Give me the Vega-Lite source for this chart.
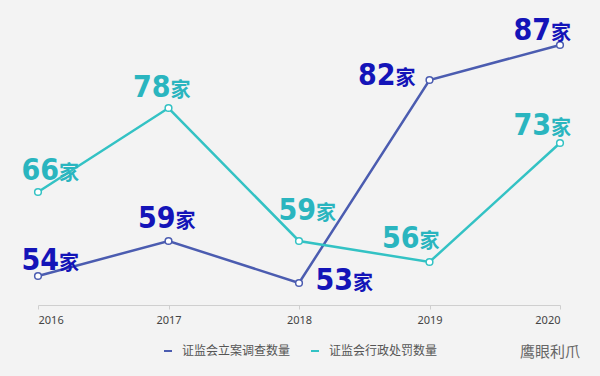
{
  "$schema": "https://vega.github.io/schema/vega-lite/v6.json",
  "autosize": "none",
  "width": 522,
  "height": 301,
  "padding": {"top": 3, "left": 38, "right": 40, "bottom": 72},
  "background": "#f3f3f3",
  "config": {"view": {"stroke": null}, "font": "Noto Sans"},
  "title": {"text": "鹰眼利爪", "orient": "bottom", "anchor": "end", "offset": -12, "dx": 9, "fontSize": 15, "fontWeight": "normal", "color": "#666", "font": "Noto Sans CJK SC"},
  "data": {"values": [
    {"year": 2016, "series": "证监会立案调查数量", "value": 54},
    {"year": 2017, "series": "证监会立案调查数量", "value": 59},
    {"year": 2018, "series": "证监会立案调查数量", "value": 53},
    {"year": 2019, "series": "证监会立案调查数量", "value": 82},
    {"year": 2020, "series": "证监会立案调查数量", "value": 87},
    {"year": 2016, "series": "证监会行政处罚数量", "value": 66},
    {"year": 2017, "series": "证监会行政处罚数量", "value": 78},
    {"year": 2018, "series": "证监会行政处罚数量", "value": 59},
    {"year": 2019, "series": "证监会行政处罚数量", "value": 56},
    {"year": 2020, "series": "证监会行政处罚数量", "value": 73}
  ]},
  "encoding": {
    "x": {"field": "year", "type": "quantitative", "scale": {"domain": [2016, 2020]},
      "axis": {"values": [2016, 2017, 2018, 2019, 2020], "format": "d", "title": null, "grid": false,
        "domainColor": "#cfcfcf", "tickColor": "#cfcfcf", "tickSize": 4, "labelFontSize": 11, "labelColor": "#444", "labelPadding": 5, "offset": 1}},
    "y": {"field": "value", "type": "quantitative", "scale": {"domain": [50, 93], "zero": false, "nice": false}, "axis": null}
  },
  "layer": [
    {
      "mark": {"type": "line", "strokeWidth": 2.5},
      "encoding": {
        "color": {"field": "series", "type": "nominal", "scale": {"domain": ["证监会立案调查数量", "证监会行政处罚数量"], "range": ["#4b5cb0", "#33c2c4"]},
          "legend": {"title": null, "orient": "none", "legendX": 124, "legendY": 342, "direction": "horizontal", "symbolType": "stroke", "symbolSize": 64, "symbolStrokeWidth": 2, "labelFontSize": 12, "labelColor": "#555", "labelFont": "Noto Sans CJK SC", "columnPadding": 16, "labelOffset": 8}}
      }
    },
    {
      "mark": {"type": "point", "filled": false, "fill": "white", "fillOpacity": 1, "size": 45, "strokeWidth": 1.5, "opacity": 1},
      "encoding": {"color": {"field": "series", "type": "nominal", "legend": null}}
    },
    {
      "mark": {"type": "text", "align": "right", "baseline": "alphabetic", "font": "DejaVu Sans Condensed, Liberation Sans Narrow, Liberation Sans", "fontWeight": "bold", "fontSize": 30,
        "dx": {"expr": "datum.year==2016?21:datum.year==2017?(datum.series=='证监会立案调查数量'?7:2):datum.year==2018?(datum.series=='证监会立案调查数量'?54:17):datum.year==2019?(datum.series=='证监会立案调查数量'?-34:-10):-9"},
        "dy": {"expr": "datum.year==2016?(datum.series=='证监会立案调查数量'?-6:-12):datum.year==2017?(datum.series=='证监会立案调查数量'?-13:-11):datum.year==2018?(datum.series=='证监会立案调查数量'?7:-21):datum.year==2019?(datum.series=='证监会立案调查数量'?5:-14):(datum.series=='证监会立案调查数量'?-5:-8)"}},
      "encoding": {
        "text": {"field": "value", "type": "quantitative", "format": "d"},
        "color": {"condition": {"test": "datum.series=='证监会立案调查数量'", "value": "#1414b8"}, "value": "#2ab5bf"}
      }
    },
    {
      "mark": {"type": "text", "align": "left", "baseline": "alphabetic", "font": "Noto Sans CJK SC", "fontWeight": "bold", "fontSize": 20, "text": "家",
        "dx": {"expr": "datum.year==2016?21:datum.year==2017?(datum.series=='证监会立案调查数量'?7:2):datum.year==2018?(datum.series=='证监会立案调查数量'?54:17):datum.year==2019?(datum.series=='证监会立案调查数量'?-34:-10):-9"},
        "dy": {"expr": "datum.year==2016?(datum.series=='证监会立案调查数量'?-6:-12):datum.year==2017?(datum.series=='证监会立案调查数量'?-13:-11):datum.year==2018?(datum.series=='证监会立案调查数量'?7:-21):datum.year==2019?(datum.series=='证监会立案调查数量'?5:-14):(datum.series=='证监会立案调查数量'?-5:-8)"}},
      "encoding": {
        "color": {"condition": {"test": "datum.series=='证监会立案调查数量'", "value": "#1414b8"}, "value": "#2ab5bf"}
      }
    }
  ]
}
